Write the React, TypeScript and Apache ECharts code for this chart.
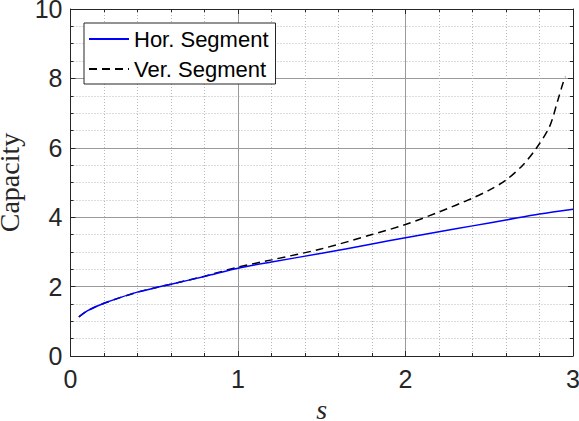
import React, { useEffect, useRef } from "react";
import * as echarts from "echarts";

const horS = [0.05, 0.1, 0.15, 0.2, 0.3, 0.4, 0.5, 0.6, 0.8, 1.0, 1.2, 1.5, 1.8, 2.0, 2.2, 2.4, 2.6, 2.8, 3.0];
const horCap = [1.13, 1.3, 1.42, 1.52, 1.69, 1.84, 1.96, 2.07, 2.29, 2.53, 2.71, 2.96, 3.23, 3.41, 3.58, 3.75, 3.92, 4.09, 4.23];

const verS = [0.05, 0.1, 0.15, 0.2, 0.3, 0.4, 0.5, 0.6, 0.8, 1.0, 1.2, 1.5, 1.8, 2.0, 2.2, 2.4, 2.5, 2.6, 2.7, 2.78, 2.86, 2.91, 2.94, 2.955];
const verCap = [1.13, 1.3, 1.42, 1.52, 1.69, 1.84, 1.96, 2.07, 2.3, 2.56, 2.77, 3.09, 3.5, 3.79, 4.15, 4.55, 4.78, 5.07, 5.5, 5.98, 6.61, 7.38, 7.86, 8.05];

const xTicks = [0, 1, 2, 3];
const yTicks = [0, 2, 4, 6, 8, 10];

const axisColor = "#262626";

export default function App() {
  const ref = useRef<HTMLDivElement>(null);
  useEffect(() => {
    const chart = echarts.init(ref.current!, null, { renderer: "svg" });
    const tickFont = { fontFamily: "Liberation Sans", fontSize: 25, color: axisColor };
    const mkAxisBase = (min: number, max: number, interval: number, minorSplit: number) => ({
      type: "value" as const,
      min,
      max,
      interval,
      axisLine: { show: true, onZero: false, lineStyle: { color: axisColor, width: 1 } },
      axisTick: { show: true, inside: true, length: 5, lineStyle: { color: axisColor } },
      minorTick: { show: true, splitNumber: minorSplit, length: 3, lineStyle: { color: axisColor } },
    });
    chart.setOption({
      animation: false,
      backgroundColor: "#fff",
      grid: { left: 70.5, right: 6, top: 9, bottom: 65, containLabel: false, outerBoundsMode: "none" },
      legend: {
        orient: "vertical",
        left: 84,
        top: 23,
        padding: [5, 7, 4, 4],
        itemGap: 8,
        itemWidth: 40,
        itemHeight: 14,
        backgroundColor: "#fff",
        borderColor: axisColor,
        borderWidth: 1,
        borderRadius: 0,
        itemStyle: { opacity: 0, color: "transparent", borderWidth: 0 },
        textStyle: { fontFamily: "Liberation Sans", fontSize: 22, color: "#000" },
        data: ["Hor. Segment", "Ver. Segment"],
      },
      xAxis: [
        {
          ...mkAxisBase(0, 3, 1, 5),
          position: "bottom",
          name: "s",
          nameLocation: "middle",
          nameGap: 38,
          nameTextStyle: { fontFamily: "Liberation Serif", fontStyle: "italic", fontSize: 28, color: axisColor },
          axisLabel: { ...tickFont, margin: 10, formatter: (v: number) => (xTicks.includes(v) ? String(v) : "") },
          splitLine: { show: true, lineStyle: { color: "#9a9a9a", width: 1 } },
          minorSplitLine: { show: true, lineStyle: { color: "#b8b8b8", width: 1, type: [1, 2] } },
        },
        {
          ...mkAxisBase(0, 3, 1, 5),
          position: "top",
          axisLabel: { show: false },
          splitLine: { show: false },
        },
      ],
      yAxis: [
        {
          ...mkAxisBase(0, 10, 2, 4),
          position: "left",
          name: "Capacity",
          nameLocation: "middle",
          nameGap: 45,
          nameTextStyle: { fontFamily: "Liberation Serif", fontSize: 28, color: axisColor },
          axisLabel: { ...tickFont, margin: 8, formatter: (v: number) => (yTicks.includes(v) ? String(v) : "") },
          splitLine: { show: true, lineStyle: { color: "#9a9a9a", width: 1 } },
          minorSplitLine: { show: true, lineStyle: { color: "#b8b8b8", width: 1, type: [1, 2] } },
        },
        {
          ...mkAxisBase(0, 10, 2, 4),
          position: "right",
          axisLabel: { show: false },
          splitLine: { show: false },
        },
      ],
      series: [
        {
          name: "Hor. Segment",
          type: "line",
          data: horS.map((s, i) => [s, horCap[i]]),
          showSymbol: false,
          symbol: "none",
          smooth: 0.3,
          lineStyle: { color: "#0000ff", width: 1.5 },
          itemStyle: { color: "#0000ff" },
          z: 3,
        },
        {
          name: "Ver. Segment",
          type: "line",
          data: verS.map((s, i) => [s, verCap[i]]),
          showSymbol: false,
          symbol: "none",
          smooth: 0.3,
          lineStyle: { color: "#000", width: 1.5, type: [8, 5] },
          itemStyle: { color: "#000" },
          z: 2,
        },
      ],
    });
    return () => chart.dispose();
  }, []);
  return <div ref={ref} style={{ position: "fixed", left: 0, top: 0, width: 579, height: 421 }} />;
}
